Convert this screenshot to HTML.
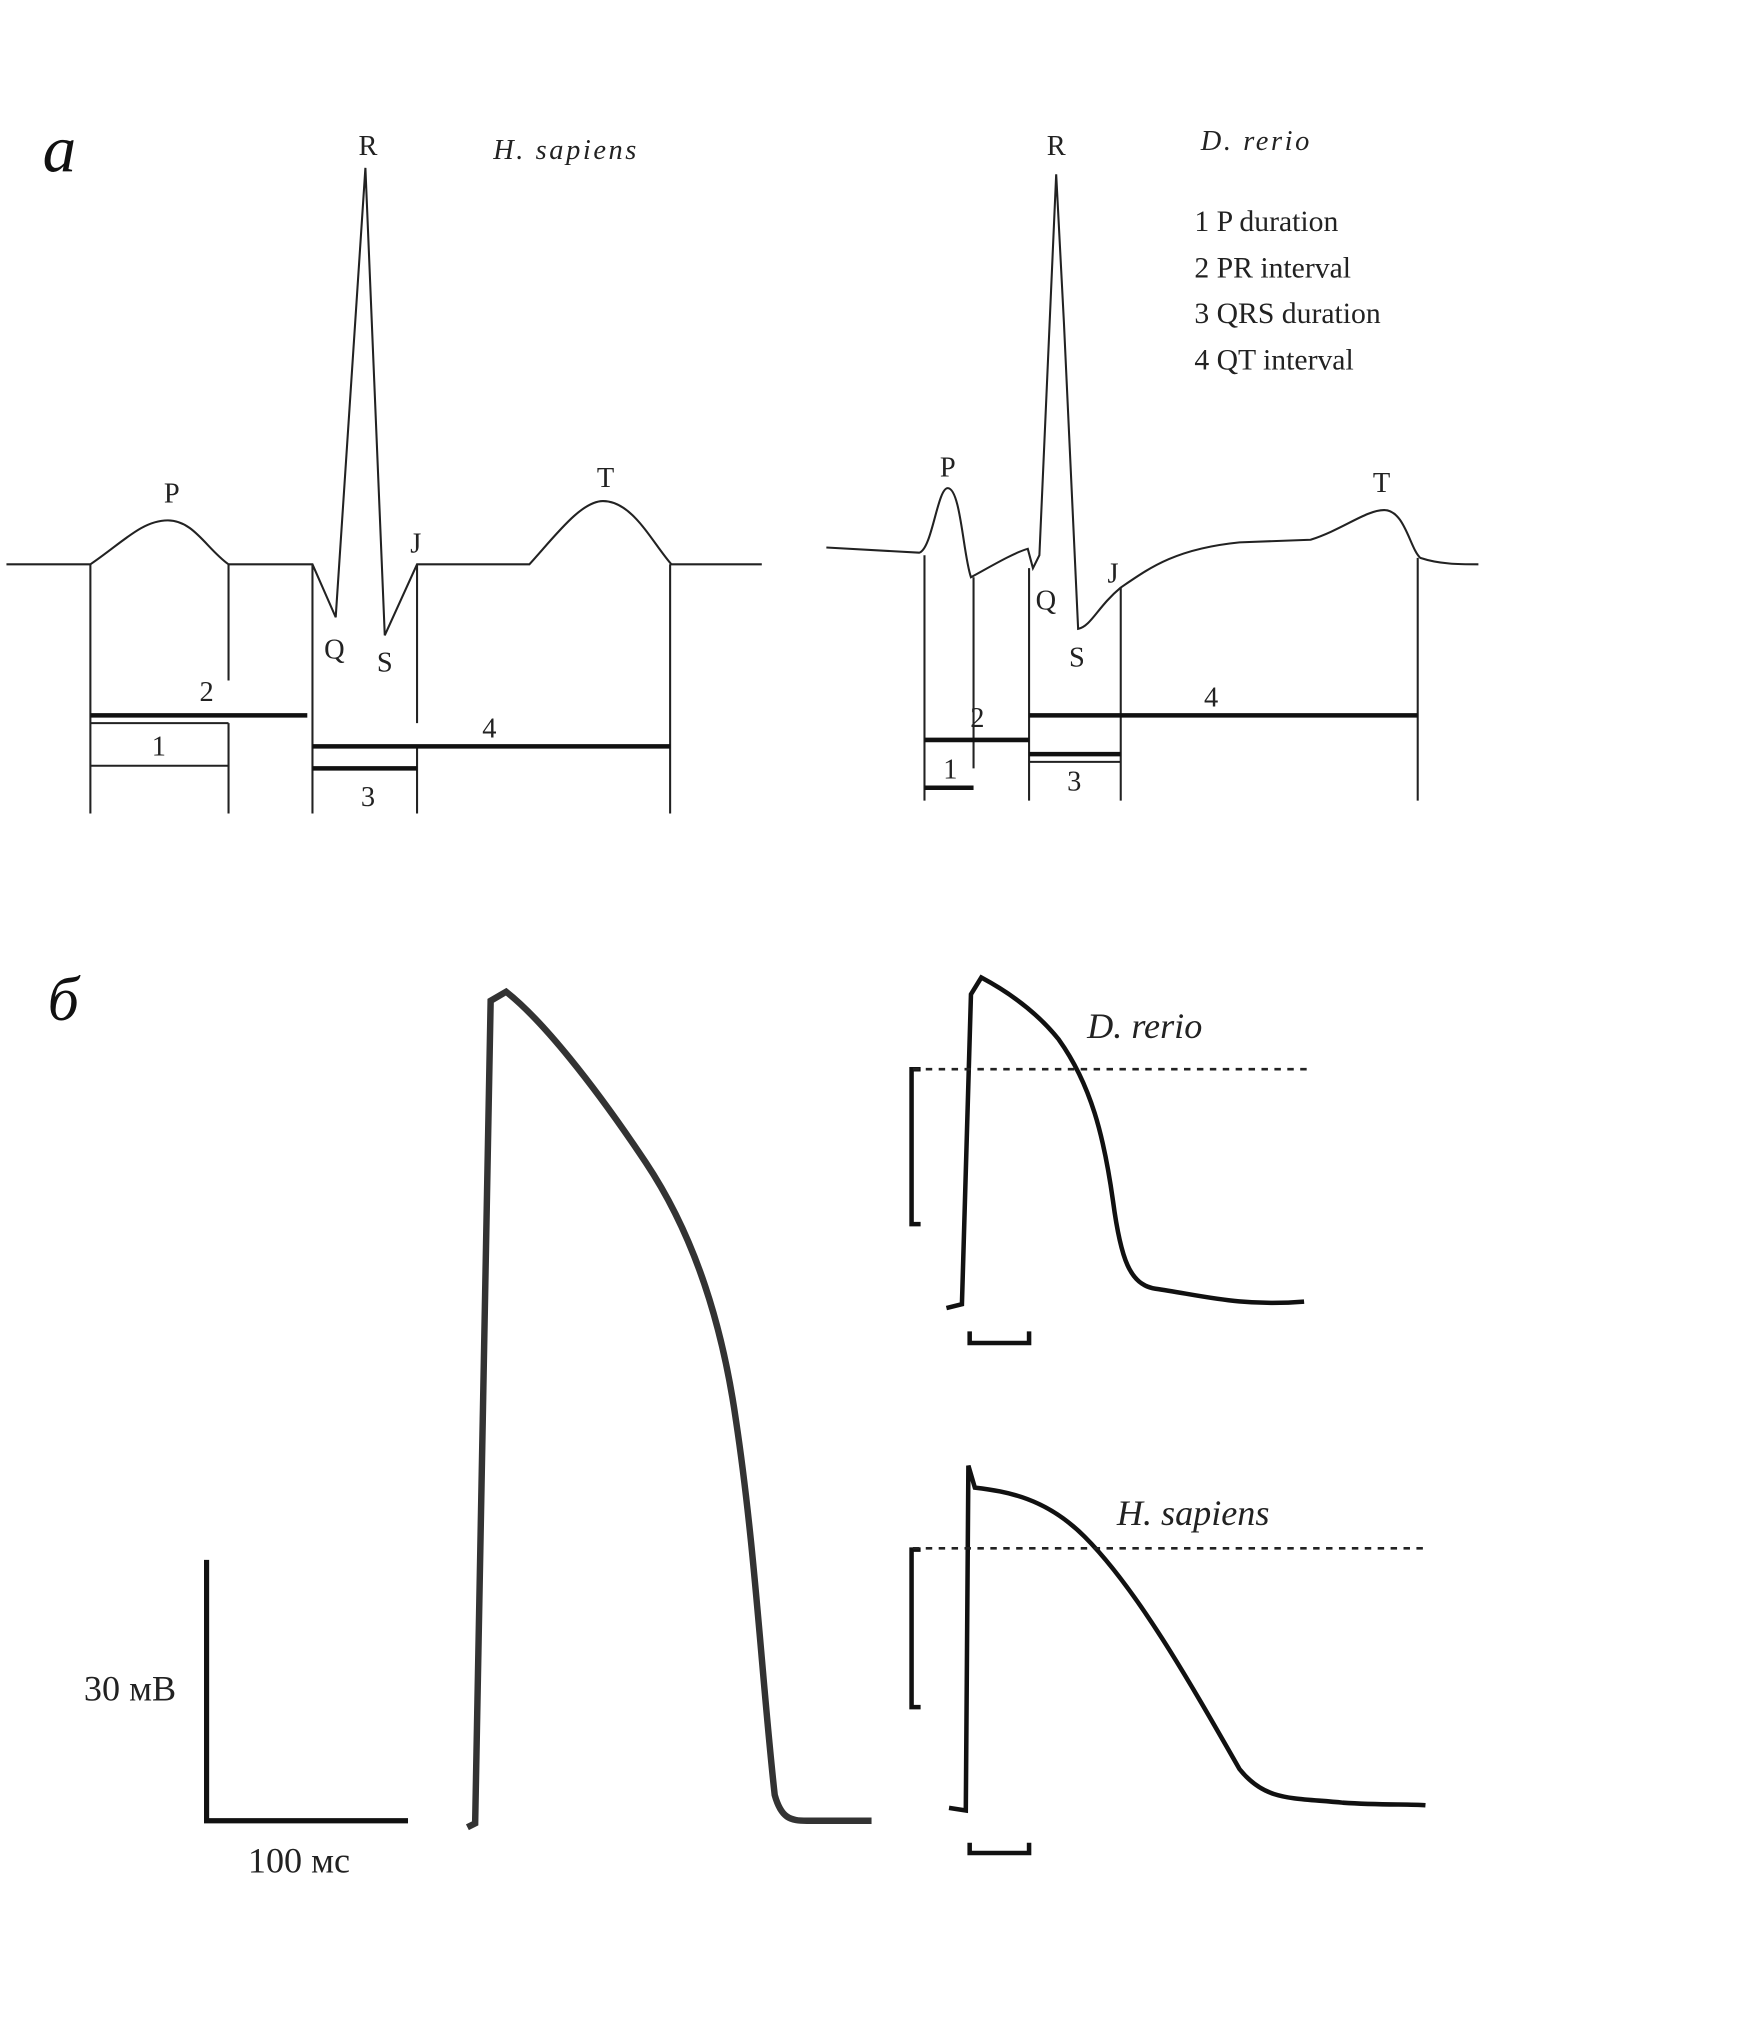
<!DOCTYPE html>
<html><head><meta charset="utf-8"><style>html,body{margin:0;padding:0;background:#fff}svg{display:block}</style></head>
<body>
<svg width="1756" height="2039" viewBox="0 0 1360 1579" preserveAspectRatio="none" xmlns="http://www.w3.org/2000/svg" font-family="Liberation Serif, serif">
<g fill="none" stroke="#222" stroke-width="1.6">
<!-- H sapiens ECG -->
<path d="M5,437 L70,437 C95,420 110,403 130,403 C150,403 160,425 177,437 L242,437 L260,478 L283,130 L298,492 L323,437 L410,437 C430,415 450,388 467,388 C490,388 505,420 520,437 L590,437"/>
<path d="M70,437V630 M177,437V527 M177,560V630 M242,437V630 M323,437V560 M323,578V630 M519,437V630 M70,560H177 M70,593H177"/>
<!-- D rerio ECG -->
<path d="M640,424 L712,428 C722,425 726,378 734,378 C744,378 746,430 752,447 C765,440 785,428 796,425 L800,440 L805,430 L818,135 L824,250 L835,487 C845,485 850,470 868,455 C890,440 910,425 960,420 L1015,418 C1040,410 1058,395 1072,395 C1088,395 1092,425 1100,432 C1115,437 1130,437 1145,437"/>
<path d="M716,430V620 M754,447V595 M797,440V620 M868,455V620 M1098,432V620 M797,590H868"/>
</g>
<g stroke="#111" stroke-width="3.5">
<path d="M70,554H238 M242,578H519 M242,595H323 M716,573H797 M716,610H754 M797,554H1098 M797,584H868"/>
</g>
<g font-size="22" fill="#222" text-anchor="middle">
<text x="285" y="120">R</text><text x="133" y="389">P</text><text x="469" y="377">T</text><text x="322" y="428">J</text>
<text x="259" y="510">Q</text><text x="298" y="520">S</text>
<text x="160" y="543">2</text><text x="123" y="585">1</text><text x="379" y="571">4</text><text x="285" y="624">3</text>
<text x="818" y="120">R</text><text x="734" y="369">P</text><text x="1070" y="381">T</text><text x="862" y="451">J</text>
<text x="810" y="472">Q</text><text x="834" y="516">S</text>
<text x="757" y="563">2</text><text x="736" y="603">1</text><text x="938" y="547">4</text><text x="832" y="612">3</text>
</g>
<g font-size="22" fill="#222" font-style="italic" letter-spacing="2">
<text x="382" y="123">H. sapiens</text><text x="930" y="116">D. rerio</text>
</g>
<g font-size="23" fill="#222">
<text x="925" y="179">1 P duration</text><text x="925" y="215">2 PR interval</text><text x="925" y="250">3 QRS duration</text><text x="925" y="286">4 QT interval</text>
</g>
<text x="33" y="133" font-size="52" font-style="italic" fill="#111">a</text>
<text x="37" y="790" font-size="48" font-style="italic" fill="#111">б</text>
<!-- big AP -->
<path d="M362,1415 L368,1412 L380,775 L392,768 C420,790 460,840 500,900 C540,960 560,1030 570,1100 C585,1200 590,1300 600,1390 C605,1408 612,1410 625,1410 L675,1410" fill="none" stroke="#333" stroke-width="5"/>
<path d="M160,1208V1410H316" fill="none" stroke="#111" stroke-width="4"/>
<text x="65" y="1317" font-size="28" fill="#222">30 мВ</text>
<text x="192" y="1450" font-size="28" fill="#222">100 мс</text>
<!-- D rerio AP -->
<g fill="none" stroke="#111" stroke-width="3.5">
<path d="M733,1013 L745,1010 L752,770 L760,757 C775,765 800,780 820,805 C845,840 855,880 862,930 C868,975 875,995 895,998 C930,1003 960,1012 1010,1008"/>
<path d="M713,828H706V948H713 M751,1031V1040H797V1031"/>
<path d="M735,1400 L748,1402 L750,1135 L755,1152 C780,1155 810,1160 840,1190 C880,1230 920,1300 960,1370 C980,1395 1000,1392 1040,1396 C1070,1398 1090,1397 1104,1398"/>
<path d="M713,1200H706V1322H713 M751,1427V1435H797V1427"/>
</g>
<g stroke="#222" stroke-width="2" stroke-dasharray="5,5">
<path d="M707,828H1015 M707,1199H1104"/>
</g>
<g font-size="28" fill="#222" font-style="italic">
<text x="842" y="804">D. rerio</text><text x="865" y="1181">H. sapiens</text>
</g>
</svg>
</body></html>
